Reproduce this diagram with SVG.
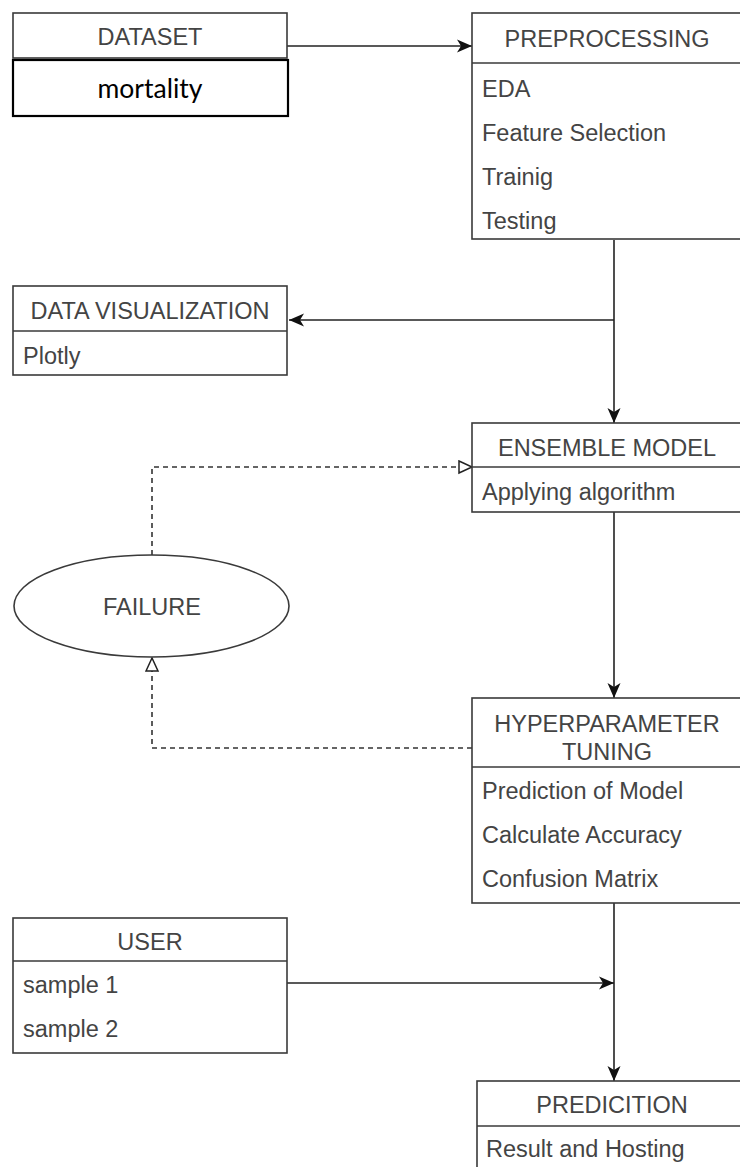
<svg xmlns="http://www.w3.org/2000/svg" width="740" height="1167" viewBox="0 0 740 1167">
<style>
.box{fill:#fff;stroke:#3a3a3a;stroke-width:1.6}
.div{stroke:#3a3a3a;stroke-width:1.6;fill:none}
.hd{font-family:"Liberation Sans",Arial,sans-serif;font-size:23.5px;fill:#444;text-anchor:middle}
.it{font-family:"Liberation Sans",Arial,sans-serif;font-size:23.5px;fill:#444}
.ln{stroke:#222;stroke-width:1.6;fill:none}
.dl{stroke:#333;stroke-width:1.6;fill:none;stroke-dasharray:5 4}
</style>
<defs>
<marker id="arr" markerUnits="userSpaceOnUse" markerWidth="18" markerHeight="16" refX="15" refY="8" orient="auto">
<path d="M0,1.5 L15,8 L0,14.5 L4,8 z" fill="#111"/>
</marker>
<marker id="tri" markerUnits="userSpaceOnUse" markerWidth="16" markerHeight="16" refX="14" refY="7" orient="auto">
<path d="M1,1 L14,7 L1,13 z" fill="#fff" stroke="#222" stroke-width="1.5"/>
</marker>
</defs>
<rect width="740" height="1167" fill="#fff"/>
<g id="connectors">
<path class="ln" d="M287,46 L472,46" marker-end="url(#arr)"/>
<path class="ln" d="M614,240 L614,423" marker-end="url(#arr)"/>
<path class="ln" d="M614,320 L289,320" marker-end="url(#arr)"/>
<path class="ln" d="M614,512 L614,698" marker-end="url(#arr)"/>
<path class="ln" d="M614,903 L614,1081" marker-end="url(#arr)"/>
<path class="ln" d="M287,983 L614,983" marker-end="url(#arr)"/>
<path class="dl" d="M152,555 L152,467 L472,467" marker-end="url(#tri)"/>
<path class="dl" d="M472,748 L152,748 L152,658" marker-end="url(#tri)"/>
</g>
<g id="dataset">
<rect class="box" x="13" y="13" width="274" height="45"/>
<text class="hd" x="150" y="45">DATASET</text>
<rect x="13" y="60" width="275" height="56" fill="#fff" stroke="#000" stroke-width="2.2"/>
<text x="150" y="98" font-family="Lato,'Noto Sans',sans-serif" font-size="26.5" fill="#000" text-anchor="middle">mortality</text>
</g>
<g id="preprocessing">
<rect class="box" x="472" y="13" width="280" height="226"/>
<line class="div" x1="472" y1="63" x2="752" y2="63"/>
<text class="hd" x="607" y="47">PREPROCESSING</text>
<text class="it" x="482" y="97">EDA</text>
<text class="it" x="482" y="141">Feature Selection</text>
<text class="it" x="482" y="185">Trainig</text>
<text class="it" x="482" y="229">Testing</text>
</g>
<g id="data-visualization">
<rect class="box" x="13" y="286" width="274" height="89"/>
<line class="div" x1="13" y1="331" x2="287" y2="331"/>
<text class="hd" x="150" y="319">DATA VISUALIZATION</text>
<text class="it" x="23" y="364">Plotly</text>
</g>
<g id="ensemble-model">
<rect class="box" x="472" y="423" width="280" height="89"/>
<line class="div" x1="472" y1="467" x2="752" y2="467"/>
<text class="hd" x="607" y="456">ENSEMBLE MODEL</text>
<text class="it" x="482" y="500">Applying algorithm</text>
</g>
<g id="failure">
<ellipse cx="151.5" cy="606" rx="137.5" ry="51" fill="#fff" stroke="#3a3a3a" stroke-width="1.6"/>
<text class="hd" x="152" y="615">FAILURE</text>
</g>
<g id="hyperparameter-tuning">
<rect class="box" x="472" y="698" width="280" height="205"/>
<line class="div" x1="472" y1="767" x2="752" y2="767"/>
<text class="hd" x="607" y="732">HYPERPARAMETER</text>
<text class="hd" x="607" y="760">TUNING</text>
<text class="it" x="482" y="799">Prediction of Model</text>
<text class="it" x="482" y="843">Calculate Accuracy</text>
<text class="it" x="482" y="887">Confusion Matrix</text>
</g>
<g id="user">
<rect class="box" x="13" y="918" width="274" height="135"/>
<line class="div" x1="13" y1="961" x2="287" y2="961"/>
<text class="hd" x="150" y="950">USER</text>
<text class="it" x="23" y="993">sample 1</text>
<text class="it" x="23" y="1037">sample 2</text>
</g>
<g id="predicition">
<rect class="box" x="477" y="1081" width="280" height="100"/>
<line class="div" x1="477" y1="1126" x2="757" y2="1126"/>
<text class="hd" x="612" y="1113">PREDICITION</text>
<text class="it" x="486" y="1157">Result and Hosting</text>
</g>
</svg>
